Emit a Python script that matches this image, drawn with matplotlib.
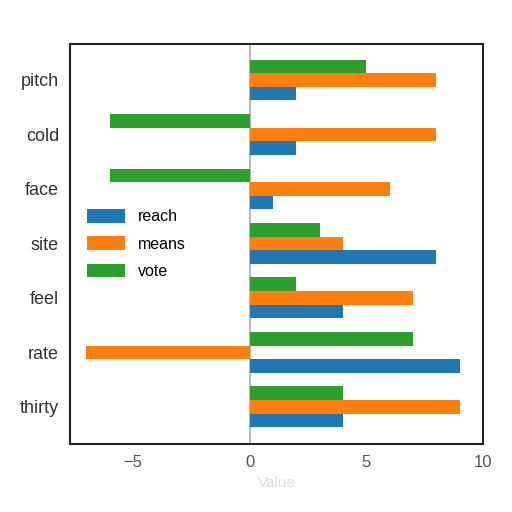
import matplotlib
matplotlib.use("Agg")
import matplotlib.pyplot as plt
import numpy as np

plt.rcParams["font.family"] = ["Liberation Sans", "DejaVu Sans"]

# Values.
categories = ["pitch", "cold", "face", "site", "feel", "rate", "thirty"]
reach = [2, 2, 1, 8, 4, 9, 4]
means = [8, 8, 6, 4, 7, -7, 9]
vote = [5, -6, -6, 3, 2, 7, 4]

series = [("reach", reach, "#1f77b4"), ("means", means, "#ff7f0e"), ("vote", vote, "#2ca02c")]
offsets = [0.25, 0.0, -0.25]
bar_h = 0.25

y = np.arange(len(categories))

fig = plt.figure(figsize=(5.12, 5.12), dpi=100)
ax = fig.add_axes([0.137, 0.133, 0.806, 0.781])

for (name, values, color), off in zip(series, offsets):
    ax.barh(y + off, values, height=bar_h, color=color, label=name)

ax.axvline(0, color="#bbbbbb", linewidth=1.5, zorder=0)

ax.set_yticks(y)
ax.set_yticklabels(categories)
ax.set_ylim(6.68, -0.66)
ax.set_xlim(-7.7, 10)
ax.set_xticks([-5, 0, 5, 10])
ax.tick_params(axis="both", length=0, pad=8)
ax.tick_params(axis="y", labelsize=13, labelcolor="#333333")
ax.tick_params(axis="x", labelsize=12, labelcolor="#555555")
ax.set_xlabel("Value", color="#dddddd", fontsize=11)

for spine in ax.spines.values():
    spine.set_color("#222222")
    spine.set_linewidth(1.5)

ax.legend(frameon=False, loc="center left", fontsize=11.5,
          handlelength=2.4, handleheight=0.9, labelspacing=0.75,
          bbox_to_anchor=(0.005, 0.5))

fig.savefig("out.png", dpi=100)
plt.close(fig)
